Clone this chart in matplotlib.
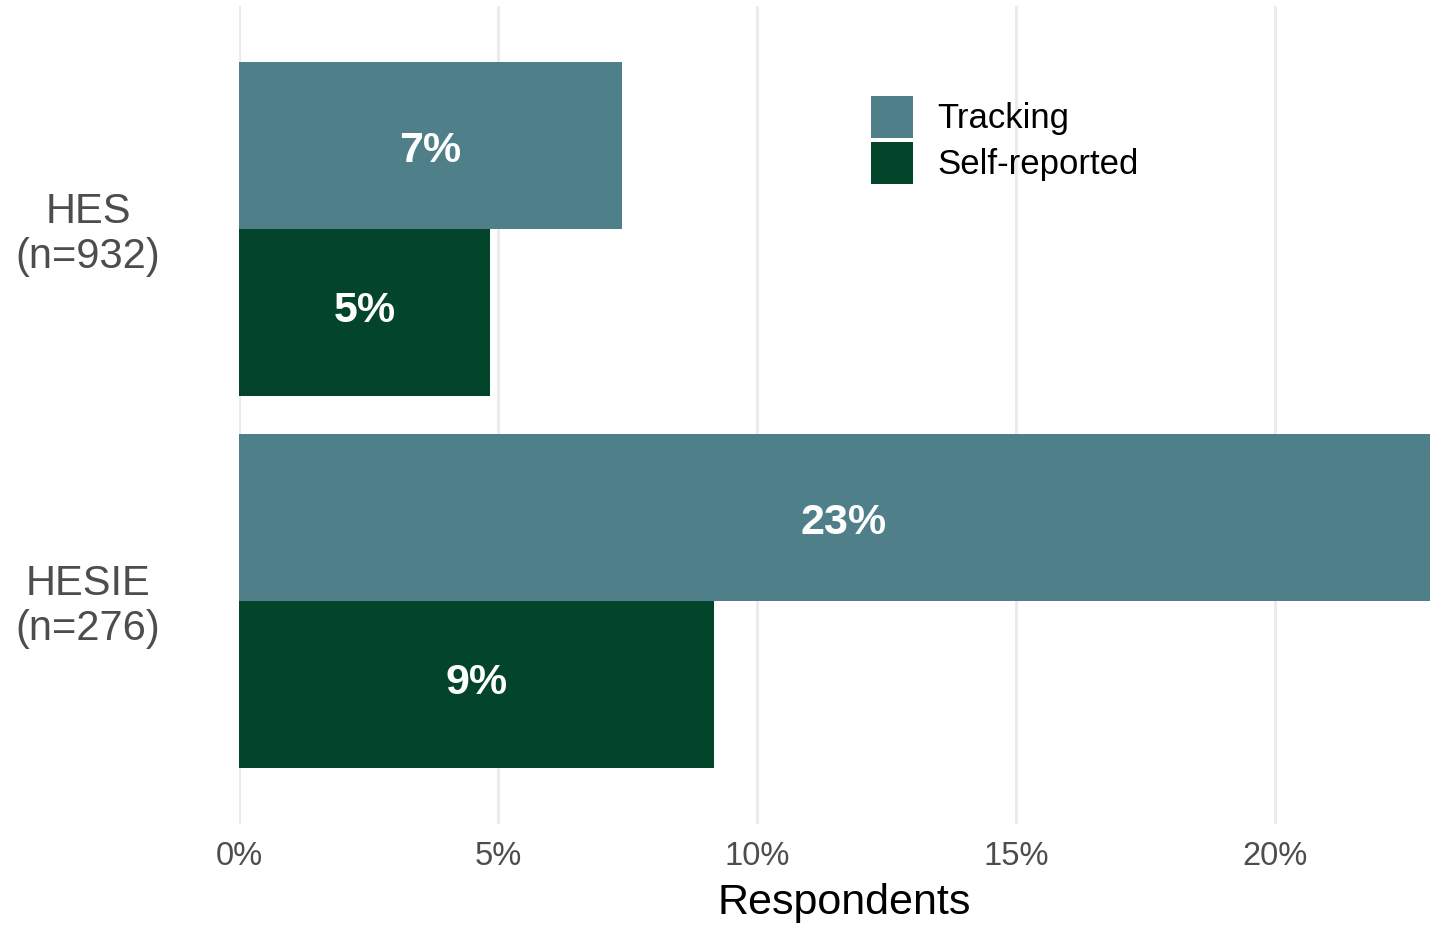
import matplotlib
matplotlib.use("Agg")
import matplotlib.pyplot as plt
from matplotlib.patches import Patch
from matplotlib.transforms import blended_transform_factory

plt.rcParams['font.family'] = ['Liberation Sans', 'DejaVu Sans']

# share of respondents (%)
groups = ['HESIE\n(n=276)', 'HES\n(n=932)']
tracking = [23.36, 7.39]
self_reported = [9.17, 4.85]
series_names = ['Tracking', 'Self-reported']
colors = ['#4F7F89', '#03452A']
xticks = [0, 5, 10, 15, 20]

W, H = 1430, 926
fig = plt.figure(figsize=(W / 100, H / 100), dpi=100)
# panel runs a little past the right edge, as in the exported plot
ax = fig.add_axes([239 / W, 1 - 824 / H, (1449 - 239) / W, (824 - 6) / H])

bar_h = 0.45
ypos = list(range(1, len(groups) + 1))
ax.barh([y + bar_h / 2 for y in ypos], tracking, height=bar_h, color=colors[0], zorder=2)
ax.barh([y - bar_h / 2 for y in ypos], self_reported, height=bar_h, color=colors[1], zorder=2)

for y, t, s in zip(ypos, tracking, self_reported):
    ax.annotate(f'{round(t)}%', (t / 2, y + bar_h / 2), xytext=(0, -4), textcoords='offset points',
                color='white', fontsize=31, fontweight='bold', ha='center', va='center', zorder=3)
    ax.annotate(f'{round(s)}%', (s / 2, y - bar_h / 2), xytext=(0, 1), textcoords='offset points',
                color='white', fontsize=31, fontweight='bold', ha='center', va='center', zorder=3)

ax.set_xlim(0, max(tracking))
ax.set_ylim(0.4, len(groups) + 0.6)
ax.set_xticks(xticks)
ax.set_xticklabels([f'{t}%' for t in xticks])
ax.set_yticks([])
ax.tick_params(axis='x', length=0, pad=12, labelsize=23.5, labelcolor='#4D4D4D')
ax.grid(axis='x', color='#EBEBEB', linewidth=2.2, zorder=0)
for sp in ax.spines.values():
    sp.set_visible(False)

# group labels, lines centred
trans = blended_transform_factory(fig.transFigure, ax.transData)
for y, g in zip(ypos, groups):
    ax.annotate(g, (88 / W, y), xycoords=trans, xytext=(0, -4), textcoords='offset points',
                ha='center', va='center', multialignment='center', fontsize=30,
                color='#4D4D4D', linespacing=1.15)

fig.text((239 + 1449) / 2 / W, 1 - 903 / H, 'Respondents', ha='center', va='center',
         fontsize=31, color='black')

handles = [Patch(facecolor=c, edgecolor='none') for c in colors]
fig.legend(handles, series_names, loc='upper left', bbox_to_anchor=(871 / W, 1 - 96 / H),
           frameon=False, fontsize=25, handlelength=1.21, handleheight=1.484,
           handletextpad=0.69, labelspacing=0.115, borderpad=0, borderaxespad=0)

fig.savefig('out.png', dpi=100)
